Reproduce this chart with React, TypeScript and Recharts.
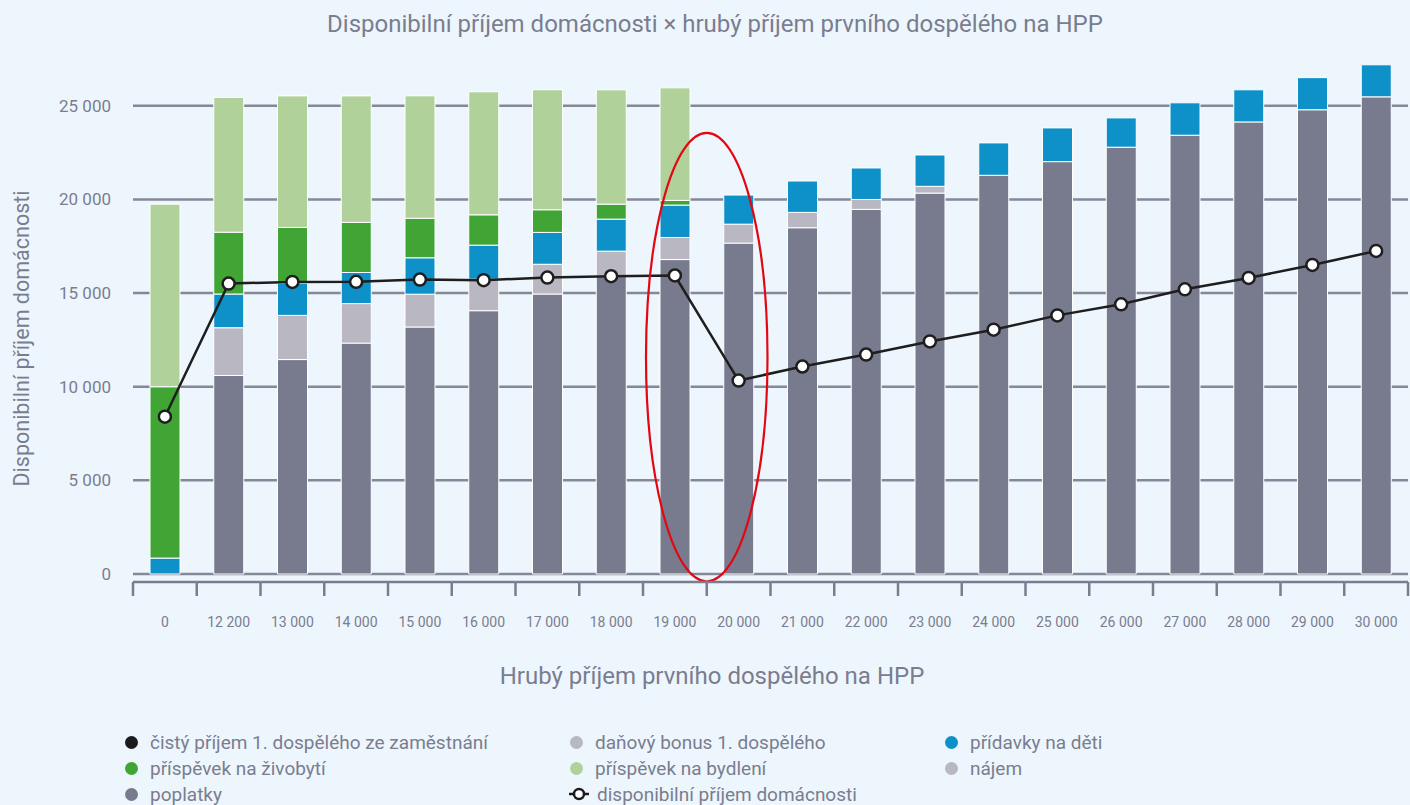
import React from 'react';
import { ComposedChart, Bar, Line, XAxis, YAxis, CartesianGrid, ReferenceArea } from 'recharts';

const categories = ['0', '12 200', '13 000', '14 000', '15 000', '16 000', '17 000', '18 000', '19 000', '20 000',
  '21 000', '22 000', '23 000', '24 000', '25 000', '26 000', '27 000', '28 000', '29 000', '30 000'];

// stacked from bottom to top
const cistyPrijem = [0, 10600, 11450, 12330, 13190, 14060, 14950, 15900, 16790, 17670, 18490, 19470, 20340, 21290, 22020, 22790, 23430, 24140, 24790, 25480];
const danovyBonus = [0, 2550, 2360, 2110, 1750, 1680, 1590, 1340, 1180, 1010, 820, 530, 360, 0, 0, 0, 0, 0, 0, 0];
const pridavky = [850, 1800, 1730, 1660, 1945, 1820, 1700, 1710, 1730, 1555, 1675, 1680, 1675, 1730, 1800, 1565, 1730, 1715, 1715, 1710];
const zivobyti = [9150, 3300, 2965, 2675, 2110, 1620, 1210, 800, 250, 0, 0, 0, 0, 0, 0, 0, 0, 0, 0, 0];
const bydleni = [9750, 7200, 7025, 6755, 6540, 6570, 6410, 6105, 6010, 0, 0, 0, 0, 0, 0, 0, 0, 0, 0, 0];
const disponibilni = [8400, 15510, 15595, 15600, 15720, 15690, 15830, 15900, 15940, 10330, 11080, 11720, 12420, 13045, 13810, 14400, 15200, 15810, 16505, 17250];

const yTicks = [0, 5000, 10000, 15000, 20000, 25000];

const legendItems = [
  { label: 'čistý příjem 1. dospělého ze zaměstnání', color: '#1b1b1b' },
  { label: 'daňový bonus 1. dospělého', color: '#b8b7c2' },
  { label: 'přídavky na děti', color: '#0e90c8' },
  { label: 'příspěvek na živobytí', color: '#41a535' },
  { label: 'příspěvek na bydlení', color: '#b0d29a' },
  { label: 'nájem', color: '#b8b7c2' },
  { label: 'poplatky', color: '#787b8d' },
  { label: 'disponibilní příjem domácnosti', color: '#1b1b1b', line: true },
];

const data = categories.map((c, i) => ({
  name: c,
  cisty: cistyPrijem[i],
  bonus: danovyBonus[i],
  pridavky: pridavky[i],
  zivobyti: zivobyti[i],
  bydleni: bydleni[i],
  disponibilni: disponibilni[i],
}));

const TEXT = '#7a7d8f';
const FONT = 'Roboto, sans-serif';

const fmt = (v: number) => String(v).replace(/\B(?=(\d{3})+(?!\d))/g, ' ');

const XTick = (props: any) => {
  const { x, y, payload, index } = props;
  const half = payload.offset ?? 31.875;
  const last = index === categories.length - 1;
  return (
    <g>
      <line x1={x - half} x2={x + half} y1={y + 8} y2={y + 8} stroke={TEXT} strokeWidth={2.5} />
      <line x1={x - half} x2={x - half} y1={y + 8} y2={y + 22} stroke={TEXT} strokeWidth={2.5} />
      {last && <line x1={x + half} x2={x + half} y1={y + 8} y2={y + 22} stroke={TEXT} strokeWidth={2.5} />}
      <text x={x} y={y + 48} textAnchor="middle" dominantBaseline="central" fill={TEXT} fontSize={14} fontFamily={FONT}>
        {payload.value}
      </text>
    </g>
  );
};

const YTitle = (props: any) => {
  const { viewBox } = props;
  const cx = 21;
  const cy = viewBox.y + viewBox.height / 2 + 22;
  return (
    <text x={cx} y={cy} transform={`rotate(-90 ${cx} ${cy})`} textAnchor="middle" dominantBaseline="central"
      fill={TEXT} fontSize={21.5} fontFamily={FONT}>
      Disponibilní příjem domácnosti
    </text>
  );
};

const Ellipse = (props: any) => {
  const { x, y, width, height } = props;
  return (
    <ellipse cx={x + width / 2} cy={y + height / 2} rx={width / 2 - 3} ry={height / 2}
      fill="none" stroke="#e30613" strokeWidth={2.2} />
  );
};

export default function App() {
  return (
    <div style={{ position: 'fixed', top: 0, left: 0, width: 1410, height: 805, background: '#eef6fd', fontFamily: FONT, overflow: 'hidden' }}>
      <div style={{ position: 'absolute', top: 10, left: 0, width: 1430, textAlign: 'center', fontSize: 24, color: TEXT }}>
        Disponibilní příjem domácnosti × hrubý příjem prvního dospělého na HPP
      </div>
      <div style={{ position: 'absolute', top: 0, left: 0 }}>
        <ComposedChart width={1410} height={710} data={data} margin={{ top: 59, right: 2, left: 0, bottom: 0 }} barSize={30}>
          <CartesianGrid vertical={false} horizontalValues={yTicks} stroke="#858898" strokeWidth={2.5} />
          <XAxis dataKey="name" interval={0} height={136} axisLine={false} tickLine={false} tickSize={0} tickMargin={0} tick={<XTick />} />
          <YAxis width={133} domain={[0, 27500]} ticks={yTicks} tickFormatter={fmt} axisLine={false} tickLine={false}
            tickSize={0} tickMargin={22} tick={{ fill: TEXT, fontSize: 17, fontFamily: FONT }} label={<YTitle />} />
          <Bar dataKey="cisty" stackId="a" fill="#787b8d" stroke="#ffffff" strokeWidth={1} isAnimationActive={false} />
          <Bar dataKey="bonus" stackId="a" fill="#b8b7c2" stroke="#ffffff" strokeWidth={1} isAnimationActive={false} />
          <Bar dataKey="pridavky" stackId="a" fill="#0e90c8" stroke="#ffffff" strokeWidth={1} isAnimationActive={false} />
          <Bar dataKey="zivobyti" stackId="a" fill="#41a535" stroke="#ffffff" strokeWidth={1} isAnimationActive={false} />
          <Bar dataKey="bydleni" stackId="a" fill="#b0d29a" stroke="#ffffff" strokeWidth={1} isAnimationActive={false} />
          <Line dataKey="disponibilni" stroke="#1e1e1e" strokeWidth={2.5} isAnimationActive={false}
            dot={{ r: 6, fill: '#ffffff', stroke: '#1e1e1e', strokeWidth: 2.5 }} />
          <ReferenceArea x1="19 000" x2="20 000" y1={-400} y2={23550} ifOverflow="visible" zIndex={1000} shape={<Ellipse />} />
        </ComposedChart>
      </div>
      <div style={{ position: 'absolute', top: 662, left: 0, width: 1424, textAlign: 'center', fontSize: 24, color: TEXT }}>
        Hrubý příjem prvního dospělého na HPP
      </div>
      <div style={{ position: 'absolute', top: 729, left: 124, display: 'grid', gridTemplateColumns: '445px 375px 300px' }}>
        {legendItems.map((it) => (
          <div key={it.label} style={{ display: 'flex', alignItems: 'center', height: 26, fontSize: 19, color: TEXT, whiteSpace: 'nowrap' }}>
            {it.line ? (
              <svg width={20} height={14} style={{ marginRight: 8 }}>
                <line x1={0} x2={20} y1={7} y2={7} stroke={it.color} strokeWidth={2.5} />
                <circle cx={10} cy={7} r={5} fill="#ffffff" stroke={it.color} strokeWidth={2.5} />
              </svg>
            ) : (
              <span style={{ width: 13, height: 13, borderRadius: '50%', background: it.color, marginRight: 12, marginLeft: 1, flex: 'none' }} />
            )}
            {it.label}
          </div>
        ))}
      </div>
    </div>
  );
}
